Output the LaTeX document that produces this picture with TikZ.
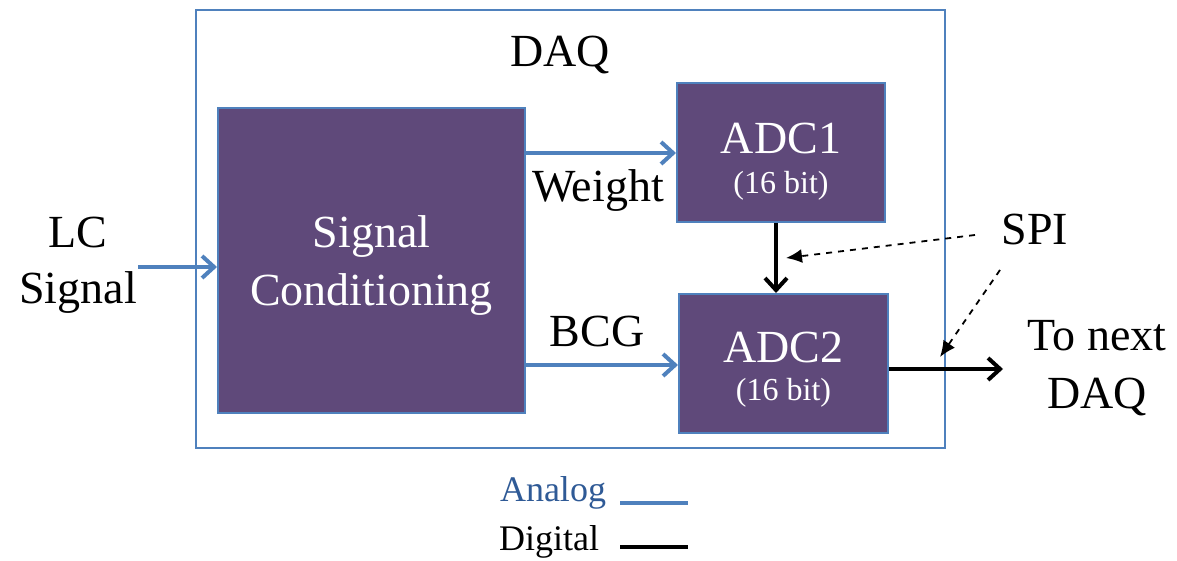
\documentclass[tikz,border=0pt]{standalone}
\usepackage{fontspec}
\setmainfont{Liberation Serif}
\usetikzlibrary{arrows.meta}
\definecolor{daqblue}{HTML}{4F81BD}
\definecolor{daqpurple}{HTML}{5F497A}
\definecolor{legendblue}{HTML}{2F5A96}
\tikzset{
  block/.style={draw=daqblue, line width=1pt, fill=daqpurple},
  big/.style={font=\fontsize{23}{27}\selectfont},
  small/.style={font=\fontsize{16}{18}\selectfont},
  analog/.style={draw=daqblue, line width=2pt, -{Straight Barb[length=6pt,width=11pt,line width=2pt]}},
  digital/.style={draw=black, line width=2pt, -{Straight Barb[length=6pt,width=11pt,line width=2pt]}},
  spi/.style={dashed, line width=0.9pt, -{Latex[length=8pt,width=7pt]}}
}
\begin{document}
\begin{tikzpicture}[x=0.5pt, y=-0.5pt]
    \useasboundingbox (0,0) rectangle (1177,561);

    % outer DAQ box
    \node[draw=daqblue, line width=1pt, minimum width=374.5pt, minimum height=219pt] (daq) at (570.5,229) {};
    \node[big] (daqlabel) at (560,55) {DAQ};

    % blocks
    \node[block, minimum width=153.5pt, minimum height=152.5pt] (sc) at (371.5,260.5) {};
    \node[big, text=white, align=center] (sctext) at (371.5,266) {Signal\\[2pt]Conditioning};
    \node[block, minimum width=104pt, minimum height=69.5pt] (adc1) at (781,152.5) {};
    \node[big, text=white] (adc1name) at (781,138) {ADC1};
    \node[small, text=white] (adc1bits) at (781,186) {(16 bit)};
    \node[block, minimum width=104.5pt, minimum height=69.5pt] (adc2) at (783.5,363.5) {};
    \node[big, text=white] (adc2name) at (783.5,347) {ADC2};
    \node[small, text=white] (adc2bits) at (783.5,393) {(16 bit)};

    % input
    \node[big, align=center] (lc) at (78,265) {LC\\[1pt]Signal};
    \coordinate (lcstart) at (138,267);
    \draw[analog] (lcstart) -- (sc.west |- lcstart);

    % analog paths
    \draw[analog] (sc.east |- 0,153) -- (adc1.west |- 0,153);
    \node[big] (weight) at (598,191) {Weight};
    \draw[analog] (sc.east |- 0,365) -- (adc2.west |- 0,365);
    \node[big] (bcg) at (597,331) {BCG};

    % digital paths
    \draw[digital] (adc1.south -| 776,0) -- (adc2.north -| 776,0);
    \coordinate (out) at (1003,369);
    \draw[digital] (adc2.east |- out) -- (out);
    \node[big, align=center] (next) at (1097,368) {To next\\[2pt]DAQ};

    % SPI
    \node[big] (spilabel) at (1035,229) {SPI};
    \coordinate (spia) at (786,258);
    \coordinate (spib) at (940,357);
    \draw[spi] (975,235) -- (spia);
    \draw[spi] (1000,270) -- (spib);

    % legend
    \node[font=\fontsize{18}{20}\selectfont, text=legendblue] (analoglabel) at (553,493) {Analog};
    \draw[daqblue, line width=2pt] (620,503) -- (688,503);
    \node[font=\fontsize{18}{20}\selectfont] (digitallabel) at (549,542) {Digital};
    \draw[black, line width=2pt] (620,547) -- (688,547);
  \end{tikzpicture}
\end{document}
